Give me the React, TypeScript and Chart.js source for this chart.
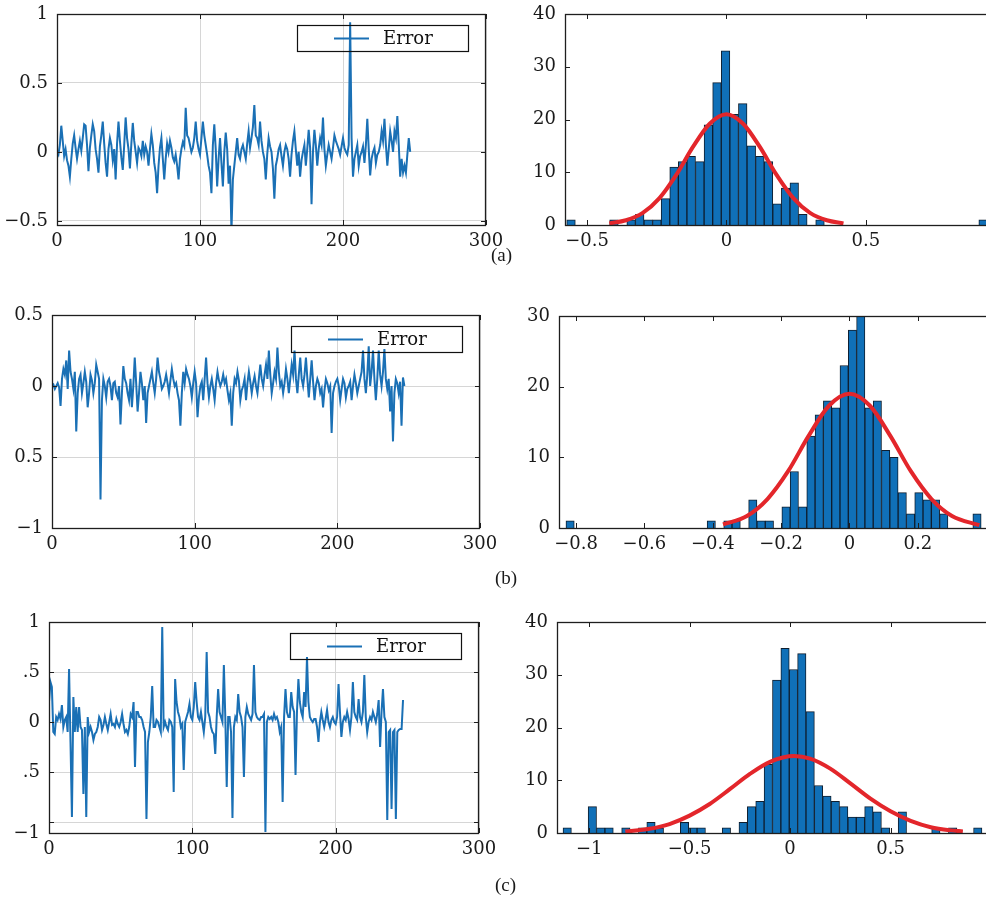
import React, { useEffect, useRef } from "react";
import { Chart, registerables } from "chart.js";

Chart.register(...registerables);

// ---------- time-series errors (sample index 0..247) ----------
const errorA = [
  0.00, -0.02, 0.05, 0.19, 0.08, -0.03, 0.02, -0.06, -0.10, -0.18,
  -0.05, 0.06, 0.12, 0.03, -0.05, 0.02, 0.08, 0.01, 0.10, 0.20,
  0.19, 0.05, -0.14, 0.03, 0.12, 0.20, 0.15, 0.02, -0.05, -0.15,
  0.04, 0.12, 0.22, 0.06, -0.08, -0.18, 0.02, 0.10, 0.05, -0.06,
  0.02, -0.20, 0.06, 0.22, 0.08, -0.04, -0.13, 0.05, 0.25, 0.10,
  0.02, -0.12, 0.06, 0.21, 0.08, 0.00, -0.08, 0.03, 0.01, -0.03,
  0.08, -0.02, 0.04, 0.00, -0.10, 0.02, 0.13, 0.05, -0.08, -0.15,
  -0.30, -0.10, 0.03, 0.10, -0.05, -0.20, -0.05, 0.06, 0.00, 0.08,
  0.03, -0.04, -0.07, -0.02, -0.10, -0.20, -0.05, 0.02, 0.07, 0.04,
  0.32, 0.12, 0.10, 0.05, 0.00, 0.03, 0.10, 0.22, 0.08, 0.02,
  -0.02, 0.10, 0.22, 0.12, 0.05, -0.02, -0.10, -0.15, -0.30, 0.05,
  0.20, 0.02, -0.25, -0.05, 0.10, -0.08, -0.25, 0.00, 0.14, 0.02,
  -0.23, -0.10, -0.58, -0.20, -0.10, 0.00, 0.10, -0.02, -0.05, 0.02,
  0.05, 0.00, -0.05, 0.06, 0.15, 0.03, 0.10, 0.18, 0.34, 0.12,
  0.10, 0.05, 0.22, 0.08, 0.00, -0.05, -0.20, -0.02, 0.10, 0.04,
  0.00, -0.12, -0.34, -0.10, -0.05, 0.02, 0.05, -0.03, -0.10, 0.00,
  0.05, 0.02, -0.05, -0.18, -0.02, 0.08, 0.15, 0.02, -0.10, 0.00,
  -0.18, -0.06, 0.00, 0.05, -0.10, 0.02, 0.16, 0.03, -0.38, 0.00,
  0.16, 0.05, -0.10, 0.02, 0.10, 0.05, 0.25, 0.02, -0.10, -0.02,
  0.05, 0.00, -0.05, 0.03, 0.12, 0.08, 0.05, 0.02, -0.02, 0.04,
  0.10, 0.03, 0.00, -0.02, 0.05, 0.94, 0.10, -0.18, -0.05, 0.00,
  0.05, -0.10, -0.03, 0.00, 0.04, -0.08, 0.05, 0.24, 0.02, -0.17,
  -0.05, 0.00, 0.03, -0.08, -0.02, 0.00, 0.05, 0.15, 0.08, 0.24,
  0.05, -0.10, 0.02, 0.15, 0.08, 0.00, 0.15, 0.10, 0.26, 0.05,
  -0.18, -0.05, -0.15, -0.10, -0.15, -0.02, 0.10, 0.00,
];

const errorB = [
  0.00, 0.01, -0.02, 0.00, 0.02, -0.01, -0.14, 0.05, 0.12, 0.08,
  0.18, -0.02, 0.25, 0.10, 0.05, -0.02, 0.10, -0.32, -0.05, 0.05,
  0.08, -0.05, 0.02, 0.10, 0.03, -0.15, -0.05, 0.08, 0.04, -0.05,
  0.02, 0.15, 0.10, 0.05, -0.80, -0.10, 0.05, 0.00, -0.08, 0.03,
  0.05, 0.00, -0.10, 0.02, 0.03, -0.05, -0.08, 0.00, -0.27, -0.05,
  0.14, 0.05, 0.02, -0.05, -0.10, 0.05, -0.15, 0.00, 0.20, 0.02,
  -0.18, -0.05, 0.10, 0.02, -0.10, 0.00, -0.26, -0.05, 0.00, 0.05,
  0.10, 0.02, -0.05, 0.05, 0.20, 0.10, 0.05, -0.02, 0.00, 0.03,
  0.08, 0.02, -0.05, 0.04, 0.12, 0.05, 0.00, 0.02, -0.05, -0.10,
  -0.28, -0.05, 0.10, 0.02, 0.12, 0.08, 0.05, 0.00, -0.08, 0.02,
  0.10, 0.02, -0.22, -0.08, 0.00, 0.03, -0.10, 0.05, 0.20, 0.02,
  -0.08, 0.00, 0.05, -0.02, -0.10, 0.02, 0.10, 0.04, 0.00, 0.03,
  0.08, 0.02, 0.05, -0.03, -0.10, -0.05, -0.28, -0.05, 0.05, 0.02,
  0.10, 0.04, -0.10, -0.03, 0.00, 0.05, -0.10, 0.02, 0.10, 0.03,
  -0.05, 0.02, 0.07, 0.00, -0.05, 0.05, 0.15, 0.05, 0.00, 0.08,
  0.15, 0.05, 0.25, 0.08, -0.05, 0.02, 0.10, 0.05, 0.27, 0.10,
  0.00, 0.03, -0.05, 0.02, 0.12, 0.05, -0.05, 0.05, 0.15, 0.08,
  0.25, 0.05, -0.05, 0.08, 0.20, 0.05, 0.00, 0.08, 0.20, 0.05,
  -0.08, 0.05, 0.18, 0.03, -0.10, 0.00, 0.05, 0.02, -0.05, -0.02,
  -0.15, -0.03, 0.05, 0.02, -0.03, 0.00, -0.33, -0.05, 0.00, 0.03,
  0.05, 0.00, -0.10, -0.02, 0.05, 0.02, -0.08, -0.02, 0.00, 0.03,
  -0.10, 0.00, 0.08, 0.02, -0.05, 0.00, 0.05, 0.10, 0.25, 0.05,
  -0.05, 0.08, 0.28, 0.00, 0.10, 0.25, 0.05, -0.10, 0.05, 0.25,
  0.08, 0.00, 0.10, 0.26, 0.05, -0.02, 0.05, -0.18, 0.00, -0.39,
  -0.05, 0.05, 0.02, -0.05, 0.03, -0.28, 0.06, 0.00,
];

const errorC = [
  0.20, 0.40, 0.35, -0.10, -0.12, 0.05, 0.02, 0.08, 0.03, 0.17,
  -0.05, 0.02, 0.05, -0.10, 0.53, -0.20, -0.95, 0.25, -0.10, 0.15,
  -0.10, 0.15, -0.05, -0.08, -0.72, -0.05, -0.95, 0.05, -0.10, -0.05,
  -0.10, -0.18, -0.12, -0.10, -0.05, 0.05, 0.02, -0.08, -0.03, 0.05,
  -0.02, -0.08, 0.00, 0.08, -0.03, -0.02, -0.05, 0.03, -0.02, -0.05,
  0.00, 0.08, -0.02, -0.10, -0.08, -0.12, -0.05, 0.08, 0.05, 0.20,
  -0.45, 0.10, 0.10, 0.05, 0.05, 0.02, -0.05, -0.10, -0.97, -0.20,
  -0.10, 0.05, 0.36, -0.05, -0.05, 0.02, 0.00, -0.05, -0.10, 0.95,
  -0.05, 0.00, -0.05, -0.08, 0.02, 0.00, -0.05, -0.70, 0.43, 0.20,
  0.10, 0.05, -0.05, -0.02, -0.48, 0.00, 0.05, 0.10, 0.18, 0.05,
  0.02, 0.15, 0.40, 0.20, 0.05, 0.02, 0.10, 0.00, -0.10, 0.05,
  0.70, 0.10, 0.05, -0.05, -0.10, -0.12, -0.32, 0.05, 0.33, 0.10,
  0.05, 0.00, 0.57, 0.05, -0.65, 0.05, 0.05, -0.10, -0.96, -0.05,
  0.05, 0.02, 0.28, 0.10, 0.05, -0.05, -0.55, 0.05, 0.15, 0.08,
  0.05, 0.02, 0.08, 0.57, 0.10, 0.05, 0.03, 0.02, 0.05, 0.05,
  0.08, -1.10, 0.00, 0.05, 0.03, 0.05, 0.02, 0.08, 0.03, 0.05,
  0.00, -0.10, -0.05, -0.80, 0.05, 0.33, 0.10, 0.05, 0.05, 0.30,
  0.15, 0.10, -0.53, 0.10, 0.43, 0.20, 0.10, 0.05, 0.30, 0.15,
  0.65, 0.20, 0.05, 0.02, 0.00, 0.03, 0.03, -0.05, -0.20, 0.00,
  0.10, 0.02, -0.05, 0.03, 0.12, 0.00, -0.05, 0.02, 0.05, 0.00,
  -0.02, 0.05, 0.38, 0.10, -0.15, 0.00, 0.05, 0.02, 0.10, 0.03,
  -0.08, 0.05, 0.40, 0.10, 0.05, 0.02, 0.23, 0.05, 0.00, 0.10,
  0.47, 0.05, -0.10, 0.00, 0.05, 0.02, 0.10, 0.05, 0.00, 0.08,
  0.22, -0.25, 0.10, 0.33, 0.05, 0.00, -0.98, -0.10, -0.08, -0.87,
  -0.10, -0.08, -0.97, -0.10, -0.08, -0.07, -0.07, 0.22,
];

// ---------- histograms: bin centres and counts ----------
const binsA = [-0.5574, -0.4034, -0.3418, -0.311, -0.2802, -0.2494, -0.2186, -0.1878, -0.157, -0.1262, -0.0954, -0.0646, -0.0338, -0.003, 0.0278, 0.0586, 0.0894, 0.1202, 0.151, 0.1818, 0.2126, 0.2434, 0.2742, 0.3358, 0.921];
const countsA = [1, 1, 1, 2, 1, 1, 5, 11, 12, 13, 12, 19, 27, 33, 21, 23, 15, 13, 12, 4, 7, 8, 2, 1, 1];

const binsB = [-0.8175, -0.4044, -0.3558, -0.3315, -0.2829, -0.2586, -0.2343, -0.1857, -0.1614, -0.1371, -0.1128, -0.0885, -0.0642, -0.0399, -0.0156, 0.0087, 0.033, 0.0573, 0.0816, 0.1059, 0.1302, 0.1545, 0.1788, 0.2031, 0.2274, 0.2517, 0.276, 0.3732];
const countsB = [1, 1, 1, 1, 4, 1, 1, 3, 8, 3, 13, 16, 18, 17, 23, 28, 30, 17, 18, 11, 10, 5, 2, 5, 4, 4, 2, 2];

const binsC = [-1.1092, -0.9841, -0.9424, -0.9007, -0.8173, -0.7339, -0.6922, -0.6505, -0.5254, -0.4837, -0.442, -0.3169, -0.2335, -0.1918, -0.1501, -0.1084, -0.0667, -0.025, 0.0167, 0.0584, 0.1001, 0.1418, 0.1835, 0.2252, 0.2669, 0.3086, 0.3503, 0.392, 0.4337, 0.4754, 0.5588, 0.7256, 0.809, 0.9341];
const countsC = [1, 5, 1, 1, 1, 1, 2, 1, 2, 1, 1, 1, 2, 5, 6, 13, 29, 35, 31, 34, 23, 9, 7, 6, 5, 3, 3, 5, 4, 1, 4, 1, 1, 1];

// ---------- fitted normal curves ----------
const fitXA = [-0.42, -0.36, -0.30, -0.24, -0.18, -0.12, -0.06, 0, 0.06, 0.12, 0.18, 0.24, 0.30, 0.36, 0.42];
const fitYA = [0.3, 0.9, 2.3, 5.1, 9.5, 14.8, 19.2, 21, 19.2, 14.8, 9.5, 5.1, 2.3, 0.9, 0.3];

const fitXB = [-0.37, -0.30, -0.24, -0.18, -0.12, -0.06, 0, 0.06, 0.12, 0.18, 0.24, 0.30, 0.38];
const fitYB = [0.5, 1.7, 4.1, 8.0, 13.0, 17.3, 19, 17.3, 13.0, 8.0, 4.1, 1.7, 0.4];

const fitXC = [-0.82, -0.7, -0.6, -0.5, -0.4, -0.3, -0.2, -0.1, 0.02, 0.1, 0.2, 0.3, 0.4, 0.5, 0.6, 0.7, 0.8, 0.86];
const fitYC = [0.3, 0.8, 1.7, 3.3, 5.5, 8.3, 11.2, 13.5, 14.6, 14.1, 12.2, 9.4, 6.5, 4.1, 2.3, 1.1, 0.5, 0.3];

// ---------- ticks ----------
const seriesXTicks = [0, 100, 200, 300];
const seriesXLabels = ["0", "100", "200", "300"];

const yTicksA = [-0.5, 0, 0.5, 1];
const yLabelsA = ["\u22120.5", "0", "0.5", "1"];
const yTicksB = [-1, -0.5, 0, 0.5];
const yLabelsB = ["\u22121", "0.5", "0", "0.5"];
const yTicksC = [-1.11, -1, -0.5, 0, 0.5, 1];
const yLabelsC = ["\u22121", "", ".5", "0", ".5", "1"];

const histXTicksA = [-0.5, 0, 0.5];
const histXLabelsA = ["\u22120.5", "0", "0.5"];
const histXTicksB = [-0.8, -0.6, -0.4, -0.2, 0, 0.2];
const histXLabelsB = ["\u22120.8", "\u22120.6", "\u22120.4", "\u22120.2", "0", "0.2"];
const histXTicksC = [-1, -0.5, 0, 0.5];
const histXLabelsC = ["\u22121", "\u22120.5", "0", "0.5"];

const histYTicks40 = [0, 10, 20, 30, 40];
const histYLabels40 = ["0", "10", "20", "30", "40"];
const histYTicks30 = [0, 10, 20, 30];
const histYLabels30 = ["0", "10", "20", "30"];

const LEGEND_LABEL = "Error";
const FONT = '"DejaVu Serif", serif';
const BLUE = "#1a70b5";
const RED = "#e3262b";

type PanelCfg = {
  kind: "series" | "hist";
  L: number; R: number; T: number; B: number;
  yAxisW: number;
  xMin: number; xMax: number; yMin: number; yMax: number;
  xTicks: number[]; xLabels: string[];
  yTicks: number[]; yLabels: string[];
  series?: number[];
  bins?: number[]; counts?: number[];
  fitX?: number[]; fitY?: number[];
};

const PAD_TOP = 14;
const X_AXIS_H = 40;

const frame = {
  id: "frame",
  afterDraw(chart: any, _args: any, opts: any) {
    const { ctx, chartArea: a, scales } = chart;
    ctx.save();
    ctx.strokeStyle = "#1e1e1e";
    ctx.lineWidth = 1;
    ctx.beginPath();
    scales.x.ticks.forEach((t: any) => {
      const px = Math.round(scales.x.getPixelForValue(t.value)) + 0.5;
      ctx.moveTo(px, a.bottom); ctx.lineTo(px, a.bottom - 5);
      ctx.moveTo(px, a.top); ctx.lineTo(px, a.top + 5);
    });
    scales.y.ticks.forEach((t: any) => {
      const py = Math.round(scales.y.getPixelForValue(t.value)) + 0.5;
      ctx.moveTo(a.left, py); ctx.lineTo(a.left + 5, py);
      ctx.moveTo(a.right, py); ctx.lineTo(a.right - 5, py);
    });
    ctx.stroke();
    ctx.lineWidth = 1.3;
    ctx.strokeRect(a.left + 0.5, a.top + 0.5, a.right - a.left - 1, a.bottom - a.top);
    if (opts && opts.legend) {
      const w = 171, h = 26;
      const x = a.right - 18 - w, y = a.top + 11;
      ctx.lineWidth = 1.2;
      ctx.strokeStyle = "#111";
      ctx.strokeRect(x + 0.5, y + 0.5, w, h);
      ctx.strokeStyle = BLUE;
      ctx.lineWidth = 2;
      ctx.beginPath();
      ctx.moveTo(x + 37, y + 13.5);
      ctx.lineTo(x + 72, y + 13.5);
      ctx.stroke();
      ctx.fillStyle = "#111";
      ctx.font = "18px " + FONT;
      ctx.textBaseline = "middle";
      ctx.textAlign = "left";
      ctx.fillText(LEGEND_LABEL, x + 86, y + 14);
    }
    ctx.restore();
  },
};

function Panel({ cfg }: { cfg: PanelCfg }) {
  const ref = useRef<HTMLCanvasElement>(null);
  const padRight = cfg.kind === "series" ? 20 : 10;
  const width = cfg.yAxisW + (cfg.R - cfg.L) + padRight;
  const height = PAD_TOP + (cfg.B - cfg.T) + X_AXIS_H;
  useEffect(() => {
    if (!ref.current) return;
    const isSeries = cfg.kind === "series";
    const datasets: any[] = [];
    if (isSeries) {
      datasets.push({
        type: "line",
        data: (cfg.series || []).map((v, i) => ({ x: i, y: v })),
        borderColor: BLUE,
        borderWidth: 2,
        pointRadius: 0,
        tension: 0,
      });
    } else {
      datasets.push({
        type: "line",
        data: (cfg.fitX || []).map((v, i) => ({ x: v, y: (cfg.fitY || [])[i] })),
        borderColor: RED,
        borderWidth: 4,
        pointRadius: 0,
        cubicInterpolationMode: "monotone",
        order: 0,
      });
      datasets.push({
        type: "bar",
        data: (cfg.bins || []).map((v, i) => ({ x: v, y: (cfg.counts || [])[i] })),
        backgroundColor: "#1070b8",
        borderColor: "#0f1e2e",
        borderWidth: 1,
        barPercentage: 1,
        categoryPercentage: 1,
        order: 1,
      });
    }
    const tickFont = { family: FONT, size: 18 };
    const chart = new Chart(ref.current, {
      type: isSeries ? "line" : "bar",
      data: { datasets },
      plugins: [frame],
      options: {
        animation: false,
        responsive: false,
        devicePixelRatio: 1,
        layout: { padding: { top: PAD_TOP, right: padRight, left: 0, bottom: 0 } },
        plugins: {
          legend: { display: false },
          tooltip: { enabled: false },
          frame: { legend: isSeries },
        } as any,
        scales: {
          x: {
            type: "linear",
            min: cfg.xMin,
            max: cfg.xMax,
            offset: false,
            grid: { display: isSeries, color: "#d6d6d6", lineWidth: 1, drawTicks: false, offset: false },
            border: { display: false },
            afterBuildTicks: (s: any) => { s.ticks = cfg.xTicks.map((v) => ({ value: v })); },
            afterFit: (s: any) => {
              s.height = X_AXIS_H;
              s.paddingLeft = 0;
              s.paddingRight = 0;
            },
            ticks: {
              padding: 6,
              color: "#1a1a1a",
              font: tickFont,
              maxRotation: 0,
              autoSkip: false,
              callback: (_v: any, i: number) => cfg.xLabels[i],
            },
          },
          y: {
            type: "linear",
            min: cfg.yMin,
            max: cfg.yMax,
            grid: { display: isSeries, color: "#d6d6d6", lineWidth: 1, drawTicks: false },
            border: { display: false },
            afterBuildTicks: (s: any) => { s.ticks = cfg.yTicks.map((v) => ({ value: v })); },
            afterFit: (s: any) => {
              s.width = cfg.yAxisW;
              s.paddingTop = 0;
              s.paddingBottom = 0;
            },
            ticks: {
              padding: 9,
              color: "#1a1a1a",
              font: tickFont,
              autoSkip: false,
              callback: (_v: any, i: number) => cfg.yLabels[i],
            },
          },
        },
      } as any,
    });
    return () => chart.destroy();
  }, [cfg]);
  return (
    <canvas
      ref={ref}
      width={width}
      height={height}
      style={{
        position: "absolute",
        left: cfg.L - cfg.yAxisW,
        top: cfg.T - PAD_TOP,
        width,
        height,
      }}
    />
  );
}

const panels: PanelCfg[] = [
  {
    kind: "series", L: 57, R: 486, T: 14, B: 225, yAxisW: 57,
    xMin: 0, xMax: 300, yMin: -0.53, yMax: 1,
    xTicks: seriesXTicks, xLabels: seriesXLabels, yTicks: yTicksA, yLabels: yLabelsA,
    series: errorA,
  },
  {
    kind: "hist", L: 565, R: 994, T: 14, B: 225, yAxisW: 55,
    xMin: -0.579, xMax: 0.96, yMin: 0, yMax: 40,
    xTicks: histXTicksA, xLabels: histXLabelsA, yTicks: histYTicks40, yLabels: histYLabels40,
    bins: binsA, counts: countsA, fitX: fitXA, fitY: fitYA,
  },
  {
    kind: "series", L: 52, R: 480, T: 315, B: 528, yAxisW: 52,
    xMin: 0, xMax: 300, yMin: -1, yMax: 0.5,
    xTicks: seriesXTicks, xLabels: seriesXLabels, yTicks: yTicksB, yLabels: yLabelsB,
    series: errorB,
  },
  {
    kind: "hist", L: 559, R: 993, T: 316, B: 528, yAxisW: 55,
    xMin: -0.85, xMax: 0.42, yMin: 0, yMax: 30,
    xTicks: histXTicksB, xLabels: histXLabelsB, yTicks: histYTicks30, yLabels: histYLabels30,
    bins: binsB, counts: countsB, fitX: fitXB, fitY: fitYB,
  },
  {
    kind: "series", L: 49, R: 479, T: 622, B: 833, yAxisW: 49,
    xMin: 0, xMax: 300, yMin: -1.11, yMax: 1,
    xTicks: seriesXTicks, xLabels: seriesXLabels, yTicks: yTicksC, yLabels: yLabelsC,
    series: errorC,
  },
  {
    kind: "hist", L: 557, R: 991, T: 622, B: 833, yAxisW: 55,
    xMin: -1.16, xMax: 1.0, yMin: 0, yMax: 40,
    xTicks: histXTicksC, xLabels: histXLabelsC, yTicks: histYTicks40, yLabels: histYLabels40,
    bins: binsC, counts: countsC, fitX: fitXC, fitY: fitYC,
  },
];

const captions = [
  { text: "(a)", top: 243, left: 491 },
  { text: "(b)", top: 566, left: 495 },
  { text: "(c)", top: 873, left: 495 },
];

export default function App() {
  return (
    <div
      style={{
        position: "absolute",
        left: 0,
        top: 0,
        width: 986,
        height: 907,
        overflow: "hidden",
        background: "#ffffff",
      }}
    >
      {panels.map((p, i) => (
        <Panel key={i} cfg={p} />
      ))}
      {captions.map((c) => (
        <div
          key={c.text}
          style={{
            position: "absolute",
            left: c.left,
            top: c.top,
            fontFamily: '"Liberation Serif", serif',
            fontSize: 19,
            color: "#1a1a1a",
            lineHeight: "24px",
          }}
        >
          {c.text}
        </div>
      ))}
    </div>
  );
}
